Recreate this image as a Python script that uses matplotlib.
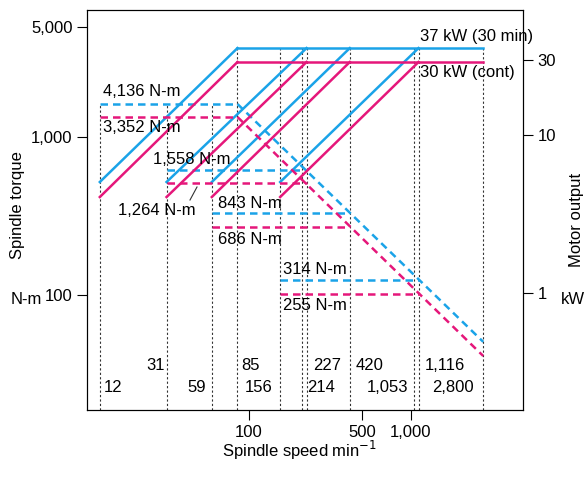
import numpy as np
import matplotlib
matplotlib.use('Agg')
from matplotlib import pyplot as plt

plt.rcParams['font.family'] = ['Liberation Sans', 'DejaVu Sans']
plt.rcParams['font.size'] = 12

BLUE = '#1aa3e8'
PINK = '#e5177a'

# speeds (min-1) where the gears change
ramp_start = [12, 31, 59, 156]
ramp_end = [85, 227, 420, 1116]
top_speed = 2800

# levels as drawn, in left axis units
blue_top, pink_top = 3656, 2985
blue_ramp0, pink_ramp0 = 519, 417
blue_torque = [1618, 618, 330, 124.5]
pink_torque = [1339, 512, 269, 101.4]
blue_end, pink_end = 50.5, 41.1

vlines_low = [12, 31, 59]
vlines_high = [85, 156, 214, 227, 420, 1053, 1116, 2800]

fig = plt.figure(figsize=(5.88, 4.84), dpi=100)
ax = fig.add_axes([87/588, 1-410/484, 436/588, 400/484])
ax.set_xscale('log')
ax.set_yscale('log')
ax.set_xlim(10.0, 4930)
ax.set_ylim(18.7, 6370)

for v in vlines_low:
    ax.plot([v, v], [18.7, blue_torque[0]], color='#333333', ls=(0, (2, 2)), lw=0.8)
for v in vlines_high:
    ax.plot([v, v], [18.7, blue_top], color='#333333', ls=(0, (2, 2)), lw=0.8)

for top, r0, tq, end, col in [(blue_top, blue_ramp0, blue_torque, blue_end, BLUE),
                              (pink_top, pink_ramp0, pink_torque, pink_end, PINK)]:
    for s, e in zip(ramp_start, ramp_end):
        ax.plot([s, e], [r0, top], color=col, lw=1.8)
    ax.plot([ramp_end[0], top_speed], [top, top], color=col, lw=1.8)
    for s, e, t in zip(ramp_start, ramp_end, tq):
        ax.plot([s, e], [t, t], color=col, lw=1.8, ls=(0, (3, 2)))
    ax.plot([ramp_end[0], top_speed], [tq[0], end], color=col, lw=1.8, ls=(0, (3, 2)))

ax.set_yticks([100, 1000, 5000])
ax.set_yticklabels(['100', '1,000', '5,000'])
ax.set_xticks([100, 500, 1000])
ax.set_xticklabels(['100', '500', '1,000'])
ax.minorticks_off()
ax.tick_params(direction='out', length=7, width=0.8)

ax2 = ax.twinx()
ax2.set_yscale('log')
ax2.set_ylim(18.7/103, 6370/103)
ax2.set_yticks([1, 10, 30])
ax2.set_yticklabels(['1', '10', '30'])
ax2.minorticks_off()
ax2.tick_params(direction='out', length=7, width=0.8)

def px(x, y, s, **kw):
    fig.text(x/588, 1-y/484, s, **kw)

px(103, 92, '4,136 N-m', va='center')
px(103, 128, '3,352 N-m', va='center')
px(153, 160, '1,558 N-m', va='center')
px(118, 211, '1,264 N-m', va='center')
px(218, 204, '843 N-m', va='center')
px(218, 240, '686 N-m', va='center')
px(283, 270, '314 N-m', va='center')
px(283, 306, '255 N-m', va='center')
px(420, 36, '37 kW (30 min)', va='center')
px(420, 73, '30 kW (cont)', va='center')
fig.add_artist(plt.Line2D([190/588, 197/588], [1-200/484, 1-187/484], color='#333333', lw=0.8))

for x, s in [(146, '31'), (241, '85'), (313, '227'), (356, '420'), (425, '1,116')]:
    px(x, 365, s, va='center')
for x, s in [(104, '12'), (187, '59'), (245, '156'), (307, '214'), (367, '1,053'), (432, '2,800')]:
    px(x, 388, s, va='center')

px(18, 205, 'Spindle torque', rotation=90, va='center', ha='center')
px(26, 300, 'N-m', va='center', ha='center')
px(577, 220, 'Motor output', rotation=90, va='center', ha='center')
px(573, 300, 'kW', va='center', ha='center')
px(300, 450, 'Spindle speed min$^{-1}$', va='center', ha='center')

fig.savefig('out.png', dpi=100)
